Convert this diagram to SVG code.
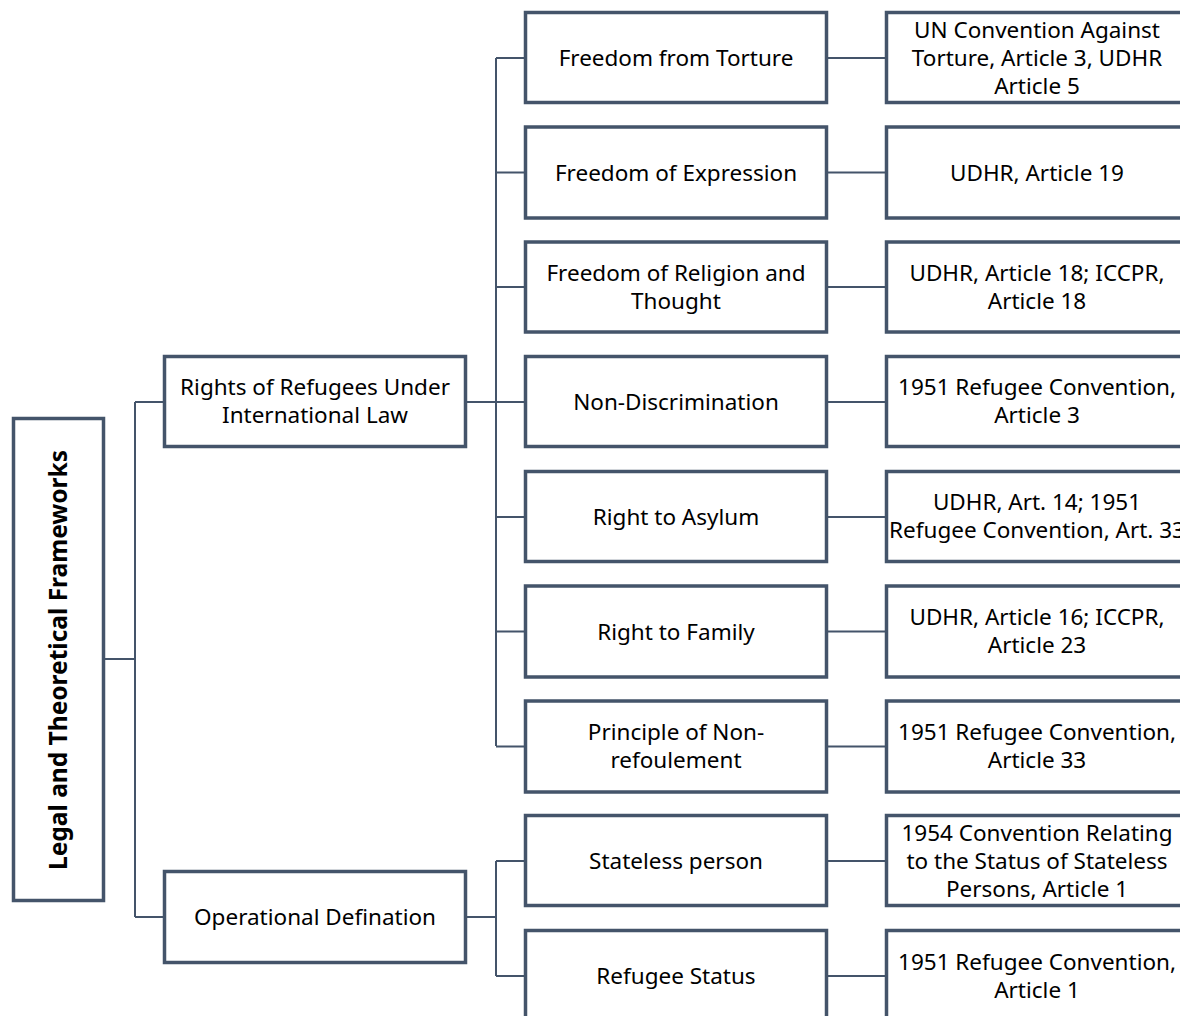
<svg xmlns="http://www.w3.org/2000/svg" width="1180" height="1016" viewBox="0 0 1180 1016">
<style>
.box{fill:#fff;stroke:#44546A;stroke-width:3.5}
.c{fill:none;stroke:#44546A;stroke-width:2}
text{font-family:"Noto Sans","Open Sans","Liberation Sans",sans-serif;font-size:22.5px;fill:#000;text-anchor:middle}
.root{font-weight:bold;font-size:24.5px}
</style>
<rect width="1180" height="1016" fill="#fff"/>
<g id="connectors">
<path class="c" d="M105,659H135M135,402V917M135,402H163M135,917H163"/>
<path class="c" d="M467,402H496M496,58V746M496,58H524M496,172.5H524M496,287H524M496,402H524M496,517H524M496,631.5H524M496,746.5H524"/>
<path class="c" d="M467,917H496M496,861V976M496,861H524M496,976H524"/>
<path class="c" d="M828,58H885M828,172.5H885M828,287H885M828,402H885M828,517H885M828,631.5H885M828,746.5H885M828,861H885M828,976H885"/>
</g>
<g id="root"><rect class="box" x="13.5" y="418.5" width="90" height="482"/><text class="root" transform="translate(67,660) rotate(-90)">Legal and Theoretical Frameworks</text></g>
<g id="n-rights"><rect class="box" x="164.5" y="356.5" width="301" height="90"/><text x="315" y="395">Rights of Refugees Under</text><text x="315" y="423">International Law</text></g>
<g id="n-oper"><rect class="box" x="164.5" y="871.5" width="301" height="91"/><text x="315" y="925">Operational Defination</text></g>
<g id="n-torture"><rect class="box" x="525.5" y="12.5" width="301" height="90"/><text x="676" y="66">Freedom from Torture</text></g>
<g id="n-expr"><rect class="box" x="525.5" y="127" width="301" height="91"/><text x="676" y="180.5">Freedom of Expression</text></g>
<g id="n-relig"><rect class="box" x="525.5" y="242" width="301" height="90"/><text x="676" y="281">Freedom of Religion and</text><text x="676" y="309">Thought</text></g>
<g id="n-nondisc"><rect class="box" x="525.5" y="356.5" width="301" height="90"/><text x="676" y="410">Non-Discrimination</text></g>
<g id="n-asylum"><rect class="box" x="525.5" y="471.5" width="301" height="90"/><text x="676" y="525">Right to Asylum</text></g>
<g id="n-family"><rect class="box" x="525.5" y="586" width="301" height="91"/><text x="676" y="639.5">Right to Family</text></g>
<g id="n-nonref"><rect class="box" x="525.5" y="701" width="301" height="91"/><text x="676" y="740">Principle of Non-</text><text x="676" y="768">refoulement</text></g>
<g id="n-stateless"><rect class="box" x="525.5" y="815.5" width="301" height="90"/><text x="676" y="869">Stateless person</text></g>
<g id="n-refstatus"><rect class="box" x="525.5" y="930.5" width="301" height="91"/><text x="676" y="984">Refugee Status</text></g>
<g id="r-torture"><rect class="box" x="886.5" y="12.5" width="301" height="90"/><text x="1037" y="38">UN Convention Against</text><text x="1037" y="66">Torture, Article 3, UDHR</text><text x="1037" y="94">Article 5</text></g>
<g id="r-expr"><rect class="box" x="886.5" y="127" width="301" height="91"/><text x="1037" y="180.5">UDHR, Article 19</text></g>
<g id="r-relig"><rect class="box" x="886.5" y="242" width="301" height="90"/><text x="1037" y="281">UDHR, Article 18; ICCPR,</text><text x="1037" y="309">Article 18</text></g>
<g id="r-nondisc"><rect class="box" x="886.5" y="356.5" width="301" height="90"/><text x="1037" y="395">1951 Refugee Convention,</text><text x="1037" y="423">Article 3</text></g>
<g id="r-asylum"><rect class="box" x="886.5" y="471.5" width="301" height="90"/><text x="1037" y="510">UDHR, Art. 14; 1951</text><text x="1037" y="538">Refugee Convention, Art. 33</text></g>
<g id="r-family"><rect class="box" x="886.5" y="586" width="301" height="91"/><text x="1037" y="625">UDHR, Article 16; ICCPR,</text><text x="1037" y="653">Article 23</text></g>
<g id="r-nonref"><rect class="box" x="886.5" y="701" width="301" height="91"/><text x="1037" y="740">1951 Refugee Convention,</text><text x="1037" y="768">Article 33</text></g>
<g id="r-stateless"><rect class="box" x="886.5" y="815.5" width="301" height="90"/><text x="1037" y="841">1954 Convention Relating</text><text x="1037" y="869">to the Status of Stateless</text><text x="1037" y="897">Persons, Article 1</text></g>
<g id="r-refstatus"><rect class="box" x="886.5" y="930.5" width="301" height="91"/><text x="1037" y="970">1951 Refugee Convention,</text><text x="1037" y="998">Article 1</text></g>
</svg>
